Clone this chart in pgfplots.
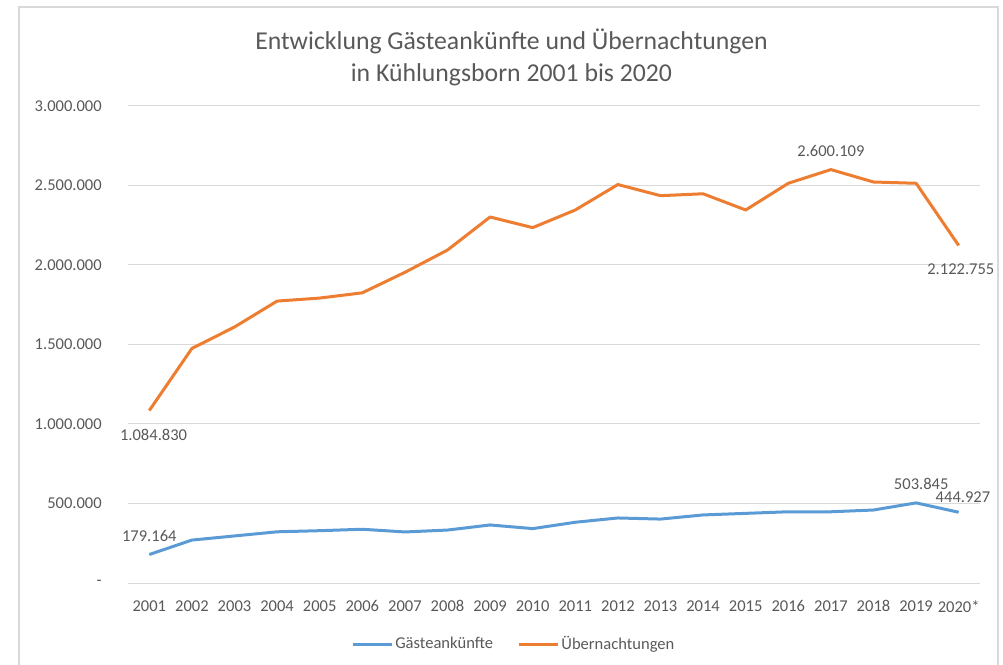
\documentclass[border=0pt]{standalone}
\usepackage{fontspec}
\setmainfont{Carlito}
\usepackage{pgfplots}
\pgfplotsset{compat=1.18}
\definecolor{txt}{HTML}{595959}
\definecolor{gridc}{HTML}{D9D9D9}
\definecolor{blu}{HTML}{5B9BD5}
\definecolor{ora}{HTML}{ED7D31}
\newcommand{\tickfont}{\fontsize{12.4pt}{15pt}\selectfont}
\begin{document}
\begin{tikzpicture}[x=1pt,y=1pt]
\useasboundingbox (0,0) rectangle (752.25,498);
\draw[gridc, line width=1.5pt] (14,-10) rectangle (748.5,492.75);
\node[txt, font=\fontsize{19.3pt}{23pt}\selectfont, anchor=base] at (383.6,460.5) {Entwicklung Gästeankünfte und Übernachtungen};
\node[txt, font=\fontsize{19.3pt}{23pt}\selectfont, anchor=base] at (383.6,436.5) {in Kühlungsborn 2001 bis 2020};
\begin{axis}[
  at={(96pt,60.75pt)}, anchor=south west,
  scale only axis, width=639pt, height=357.75pt,
  xmin=-0.5, xmax=19.5, ymin=0, ymax=3000000,
  axis line style={draw=none},
  ymajorgrids, major grid style={gridc, line width=0.75pt},
  major tick length=0pt,
  scaled y ticks=false,
  xtick={0,...,19},
  xticklabels={2001,2002,2003,2004,2005,2006,2007,2008,2009,2010,2011,2012,2013,2014,2015,2016,2017,2018,2019,2020*},
  ytick={0,500000,1000000,1500000,2000000,2500000,3000000},
  yticklabels={{-\hspace{4pt}},500.000,1.000.000,1.500.000,2.000.000,2.500.000,3.000.000},
  ticklabel style={text=txt, font=\tickfont, inner sep=0pt},
  yticklabel style={xshift=-19.5pt},
  xticklabel style={yshift=-13pt},
  clip=false,
  legend columns=2,
  legend style={at={(0.453,-0.128)}, anchor=center, draw=none, fill=none,
    font=\tickfont, text=txt, inner sep=0pt,
    nodes={inner sep=1.5pt},
    /tikz/every even column/.append style={column sep=17pt}},
  legend image code/.code={\draw[#1, line width=2.25pt] (0pt,0pt) -- (29pt,0pt);},
]
\addplot[blu, line width=2.25pt, line join=round, mark=none] coordinates {
(0,179164) (1,270000) (2,296000) (3,322000) (4,329000) (5,338000) (6,321000)
(7,333000) (8,365000) (9,342000) (10,382000) (11,409000) (12,402000) (13,428000)
(14,438000) (15,448000) (16,448000) (17,459000) (18,503845) (19,444927)};
\addlegendentry{Gästeankünfte}
\addplot[ora, line width=2.25pt, line join=round, mark=none] coordinates {
(0,1084830) (1,1475000) (2,1610000) (3,1773000) (4,1792000) (5,1825000) (6,1954000)
(7,2094000) (8,2302000) (9,2235000) (10,2346000) (11,2506000) (12,2436000) (13,2448000)
(14,2346000) (15,2514000) (16,2600109) (17,2522000) (18,2514000) (19,2122755)};
\addlegendentry{Übernachtungen}
% data labels above
\addplot[draw=none, mark=none, forget plot, point meta=explicit symbolic,
  nodes near coords,
  every node near coord/.append style={anchor=center, yshift=14pt, text=txt, font=\tickfont, inner sep=0pt}]
  coordinates {(0,179164)[179.164] (16,2600109)[2.600.109] (18.12,503845)[503.845]};
\addplot[draw=none, mark=none, forget plot, point meta=explicit symbolic,
  nodes near coords,
  every node near coord/.append style={anchor=center, yshift=11pt, text=txt, font=\tickfont, inner sep=0pt}]
  coordinates {(19.1,444927)[444.927]};
% data labels below
\addplot[draw=none, mark=none, forget plot, point meta=explicit symbolic,
  nodes near coords,
  every node near coord/.append style={anchor=center, yshift=-18pt, text=txt, font=\tickfont, inner sep=0pt}]
  coordinates {(0.1,1084830)[1.084.830] (19.05,2122755)[2.122.755]};
\end{axis}
\end{tikzpicture}
\end{document}
